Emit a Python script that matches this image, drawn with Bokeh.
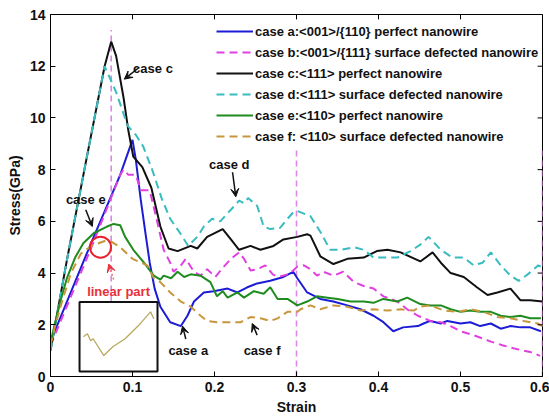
from bokeh.plotting import figure
from bokeh.models import Arrow, VeeHead, Range1d, FixedTicker, CustomJSTickFormatter
from bokeh.core.properties import value
from bokeh.embed import file_html
from bokeh.resources import INLINE

# ---------------- data ----------------
x_ticks = [0, 0.1, 0.2, 0.3, 0.4, 0.5, 0.6]
x_tick_labels = ["0", "0.1", "0.2", "0.3", "0.4", "0.5", "0.6"]
y_ticks = [0, 2, 4, 6, 8, 10, 12, 14]

# case a: <001>/{110} perfect nanowire
a_x = [0, 0.05, 0.085, 0.1, 0.104, 0.11, 0.116, 0.121, 0.127, 0.134, 0.146, 0.159, 0.167, 0.175, 0.187,
       0.199, 0.216, 0.228, 0.24, 0.252, 0.268, 0.284, 0.296, 0.301, 0.313, 0.329, 0.345, 0.362, 0.378,
       0.394, 0.406, 0.418, 0.43, 0.448, 0.455, 0.463, 0.476, 0.484, 0.5, 0.512, 0.524, 0.537, 0.549,
       0.561, 0.573, 0.585, 0.598]
a_y = [1.35, 5.2, 7.8, 9.15, 8.4, 6.85, 5.5, 4.4, 3.4, 2.7, 2.1, 1.95, 2.35, 2.9, 3.25,
       3.3, 3.4, 3.25, 3.45, 3.6, 3.7, 3.85, 4.05, 3.8, 3.25, 3.0, 2.9, 2.75, 2.6,
       2.35, 2.1, 1.75, 1.9, 1.95, 2.05, 2.15, 2.05, 2.15, 2.05, 2.1, 1.95, 2.05, 1.85,
       1.95, 1.9, 1.9, 1.75]

# case b: <001>/{111} surface defected nanowire
b_x = [0, 0.05, 0.085, 0.089, 0.095, 0.104, 0.11, 0.121, 0.13, 0.138, 0.146, 0.15, 0.159, 0.165, 0.175,
       0.183, 0.191, 0.201, 0.21, 0.22, 0.23, 0.236, 0.244, 0.252, 0.262, 0.271, 0.278, 0.289, 0.296,
       0.301, 0.309, 0.317, 0.325, 0.333, 0.345, 0.357, 0.37, 0.382, 0.394, 0.406, 0.423, 0.435, 0.448,
       0.463, 0.476, 0.488, 0.5, 0.516, 0.537, 0.552, 0.57, 0.585, 0.597]
b_y = [1.2, 5.0, 7.8, 8.0, 7.8, 7.8, 7.2, 7.2, 6.0, 4.9, 4.4, 4.05, 4.3, 4.55, 4.05,
       3.9, 4.15, 3.85, 4.2, 4.55, 4.8, 4.55, 4.1, 4.15, 4.3, 3.95, 3.85, 3.95, 4.1,
       4.25, 4.3, 4.15, 3.9, 4.05, 3.9, 4.05, 3.65, 3.5, 3.4, 3.1, 2.9, 2.6, 2.35,
       2.15, 2.1, 1.95, 1.75, 1.6, 1.35, 1.2, 1.05, 0.95, 0.8]

# case c: <111> perfect nanowire
c_x = [0, 0.02, 0.045, 0.066, 0.074, 0.08, 0.089, 0.095, 0.101, 0.112, 0.123, 0.134, 0.144, 0.155,
       0.171, 0.179, 0.191, 0.21, 0.22, 0.23, 0.244, 0.256, 0.272, 0.284, 0.301, 0.313, 0.317, 0.329,
       0.345, 0.362, 0.382, 0.398, 0.411, 0.427, 0.451, 0.466, 0.476, 0.488, 0.504, 0.52, 0.533, 0.545,
       0.561, 0.573, 0.585, 0.6]
c_y = [1.0, 4.5, 8.6, 12.0, 12.95, 12.4, 10.8, 9.5, 8.5, 8.1, 7.3, 5.8, 4.95, 4.85,
       5.05, 4.95, 5.4, 5.7, 5.3, 4.9, 5.05, 4.9, 5.05, 5.3, 5.4, 5.5, 5.45, 4.65,
       4.35, 4.55, 4.6, 4.85, 4.9, 4.8, 4.45, 4.8, 4.4, 4.0, 3.85, 3.45, 3.15, 3.25,
       3.4, 2.95, 2.95, 2.9]

# case d: <111> surface defected nanowire
d_x = [0, 0.02, 0.045, 0.066, 0.08, 0.094, 0.104, 0.113, 0.124, 0.136, 0.146, 0.159, 0.168, 0.179,
       0.187, 0.197, 0.207, 0.22, 0.23, 0.236, 0.241, 0.252, 0.26, 0.268, 0.28, 0.289, 0.296, 0.301,
       0.317, 0.329, 0.341, 0.354, 0.37, 0.382, 0.394, 0.411, 0.423, 0.439, 0.451, 0.461, 0.476, 0.49,
       0.504, 0.516, 0.527, 0.537, 0.549, 0.561, 0.571, 0.582, 0.595, 0.6]
d_y = [1.0, 4.5, 8.6, 12.0, 11.0, 9.7, 9.35, 8.9, 8.0, 6.85, 6.1, 5.5, 5.05, 5.4,
       5.8, 6.1, 6.0, 6.45, 6.8, 6.7, 6.9, 6.6, 5.8, 5.7, 5.75, 6.1, 6.35, 6.4,
       6.2, 5.6, 4.9, 4.9, 5.0, 4.9, 4.6, 4.6, 4.6, 4.85, 5.1, 5.4, 4.9, 4.6,
       4.6, 4.3, 4.4, 4.8, 4.3, 3.9, 3.7, 3.95, 4.3, 4.2]

# case e: <110> perfect nanowire
e_x = [0, 0.005, 0.012, 0.02, 0.03, 0.04, 0.053, 0.069, 0.077, 0.085, 0.091, 0.101, 0.114, 0.126,
       0.134, 0.138, 0.147, 0.155, 0.163, 0.171, 0.183, 0.195, 0.203, 0.21, 0.216, 0.228, 0.236, 0.248,
       0.26, 0.268, 0.277, 0.289, 0.301, 0.313, 0.325, 0.338, 0.35, 0.366, 0.382, 0.394, 0.406, 0.423,
       0.435, 0.451, 0.463, 0.476, 0.488, 0.5, 0.512, 0.524, 0.537, 0.549, 0.561, 0.573, 0.585, 0.598]
e_y = [1.3, 2.0, 2.9, 3.8, 4.6, 5.15, 5.55, 5.8, 5.9, 5.85, 5.4, 4.9, 4.4, 3.9,
       3.75, 3.9, 3.8, 4.05, 3.85, 3.95, 3.9, 3.65, 3.1, 3.3, 3.05, 3.25, 3.05, 3.3,
       3.2, 3.45, 3.0, 3.0, 2.75, 2.9, 3.1, 3.05, 3.0, 2.9, 2.9, 2.85, 3.0, 2.9,
       3.05, 2.8, 2.75, 2.75, 2.6, 2.5, 2.55, 2.5, 2.5, 2.35, 2.3, 2.35, 2.25, 2.25]

# case f: <110> surface defected nanowire
f_x = [0, 0.006, 0.015, 0.025, 0.037, 0.05, 0.067, 0.075, 0.085, 0.1, 0.118, 0.126, 0.134, 0.146,
       0.159, 0.171, 0.183, 0.191, 0.203, 0.22, 0.232, 0.244, 0.256, 0.268, 0.277, 0.289, 0.301, 0.305,
       0.317, 0.329, 0.345, 0.362, 0.378, 0.394, 0.411, 0.427, 0.443, 0.451, 0.463, 0.48, 0.496, 0.512,
       0.528, 0.545, 0.561, 0.577, 0.594, 0.6]
f_y = [1.2, 2.0, 3.0, 4.0, 4.75, 5.05, 5.25, 5.2, 5.0, 4.55, 4.3, 3.8, 3.65, 3.25,
       2.9, 2.7, 2.35, 2.15, 2.1, 2.1, 2.1, 2.3, 2.25, 2.15, 2.25, 2.5, 2.5, 2.6,
       2.75, 2.6, 2.75, 2.7, 2.55, 2.6, 2.55, 2.6, 2.55, 2.7, 2.75, 2.55, 2.5, 2.6,
       2.5, 2.3, 2.25, 2.15, 2.05, 1.95]

series_labels = [
    "case a:<001>/{110} perfect nanowire",
    "case b:<001>/{111} surface defected nanowire",
    "case c:<111> perfect nanowire",
    "case d:<111> surface defected nanowire",
    "case e:<110> perfect nanowire",
    "case f: <110> surface defected nanowire",
]

# vertical reference lines
vline_x = [0.074, 0.3, 0.6]
vline_top = [13.4, 8.8, 8.8]
vline_bottom = [2.9, 0, 0]

# annotations
note_text = ["case c", "case d", "case e", "case a", "case f"]
note_x = [0.125, 0.218, 0.043, 0.168, 0.258]
note_y = [11.9, 8.2, 6.85, 1.0, 1.0]
arrow_x0 = [0.108, 0.222, 0.043, 0.165, 0.252]
arrow_y0 = [11.95, 7.9, 6.45, 1.45, 1.6]
arrow_x1 = [0.09, 0.226, 0.051, 0.161, 0.246]
arrow_y1 = [11.5, 6.95, 5.8, 1.95, 2.05]

linear_text_x = [0.083]
linear_text_y = [3.27]
circle_x = [0.061]
circle_y = [5.0]
red_arrow = [0.077, 3.75, 0.071, 4.35]

inset_box = [0.0354, 0.1305, 0.19, 2.88]
inset_x = [0.040, 0.045, 0.049, 0.052, 0.065, 0.076, 0.091, 0.107, 0.122, 0.126]
inset_y = [1.54, 1.65, 1.38, 1.46, 0.81, 1.15, 1.46, 1.96, 2.5, 2.23]

# ---------------- figure ----------------
FONT = "Liberation Sans"
p = figure(width=549, height=417, x_range=Range1d(0, 0.6), y_range=Range1d(0, 14),
           output_backend="svg", toolbar_location=None, title_location=None,
           min_border_left=50, min_border_right=7, min_border_top=14, min_border_bottom=39)
p.xgrid.visible = False
p.ygrid.visible = False
p.outline_line_color = "black"
p.outline_line_alpha = 1
p.outline_line_width = 1
p.background_fill_color = "white"

# vertical dashed lines (behind)
p.segment(x0=vline_x, y0=vline_bottom, x1=vline_x, y1=vline_top,
          line_color="#dc88e6", line_width=1.6, line_dash="6 4")

styles = [
    (a_x, a_y, "#1c1cd6", "solid"),
    (b_x, b_y, "#e040e0", "8 5"),
    (c_x, c_y, "#111111", "solid"),
    (d_x, d_y, "#38bcc0", "8 5"),
    (e_x, e_y, "#1e8c1e", "solid"),
    (f_x, f_y, "#c8963c", "8 5"),
]
for (xs, ys, col, dash), lab in zip(styles, series_labels):
    p.line(xs, ys, line_color=col, line_width=2, line_dash=dash, legend_label=lab)

# top / right box ticks
p.segment(x0=x_ticks, y0=[14] * len(x_ticks), x1=x_ticks, y1=[14 - 0.19] * len(x_ticks),
          line_color="black", line_width=1)
p.segment(x0=[0.6] * len(y_ticks), y0=y_ticks, x1=[0.6 - 0.006] * len(y_ticks), y1=y_ticks,
          line_color="black", line_width=1)

# inset
p.quad(left=[inset_box[0]], right=[inset_box[1]], bottom=[inset_box[2]], top=[inset_box[3]],
       fill_color="white", line_color="#111111", line_width=2)
p.line(inset_x, inset_y, line_color="#b8a95e", line_width=1.3)

# red circle + label + arrow
p.scatter(circle_x, circle_y, marker="circle", size=21, fill_color=None,
          line_color="#e8222c", line_width=2)
p.text(linear_text_x, linear_text_y, text=["linear part"], text_font=value(FONT),
       text_font_style="bold", text_font_size="13px", text_color="#e8303a",
       text_align="center", text_baseline="middle")
p.add_layout(Arrow(end=VeeHead(size=8, fill_color="#e8303a", line_color="#e8303a"),
                   x_start=red_arrow[0], y_start=red_arrow[1], x_end=red_arrow[2], y_end=red_arrow[3],
                   line_color="#ee7080", line_width=1.5, line_dash="2 2"))

# case labels and arrows
p.text(note_x, note_y, text=note_text, text_font=value(FONT), text_font_style="bold",
       text_font_size="13px", text_color="#111111", text_align="center", text_baseline="middle")
for i in range(len(arrow_x0)):
    p.add_layout(Arrow(end=VeeHead(size=8, fill_color="#111111", line_color="#111111"),
                       x_start=arrow_x0[i], y_start=arrow_y0[i], x_end=arrow_x1[i], y_end=arrow_y1[i],
                       line_color="#111111", line_width=1.5))

# axes
p.xaxis.ticker = FixedTicker(ticks=x_ticks)
p.xaxis.formatter = CustomJSTickFormatter(args=dict(tick_vals=x_ticks, tick_text=x_tick_labels), code="""
const i = tick_vals.findIndex(t => Math.abs(t - tick) < 1e-9);
return i >= 0 ? tick_text[i] : '';
""")
p.yaxis.ticker = FixedTicker(ticks=y_ticks)
for ax in (p.xaxis[0], p.yaxis[0]):
    ax.major_tick_in = 5
    ax.major_tick_out = 0
    ax.minor_tick_in = 0
    ax.minor_tick_out = 0
    ax.axis_line_color = "black"
    ax.major_tick_line_color = "black"
    ax.major_label_text_font = FONT
    ax.major_label_text_font_size = "14px"
    ax.major_label_text_font_style = "bold"
    ax.major_label_text_color = "#111111"
    ax.major_label_standoff = 5
    ax.axis_label_text_font = FONT
    ax.axis_label_text_font_size = "14px"
    ax.axis_label_text_font_style = "bold"
    ax.axis_label_text_color = "#111111"
    ax.axis_label_standoff = 4
p.xaxis.axis_label = "Strain"
p.yaxis.axis_label = "Stress(GPa)"

# legend
lg = p.legend[0]
lg.location = (166, 231)
lg.background_fill_alpha = 0
lg.border_line_color = None
lg.padding = 0
lg.margin = 0
lg.spacing = 3
lg.glyph_width = 37
lg.glyph_height = 18
lg.label_height = 18
lg.label_standoff = 2
lg.label_text_font = FONT
lg.label_text_font_size = "13px"
lg.label_text_font_style = "bold"
lg.label_text_color = "#111111"

open("out.html", "w").write(file_html(p, INLINE))
